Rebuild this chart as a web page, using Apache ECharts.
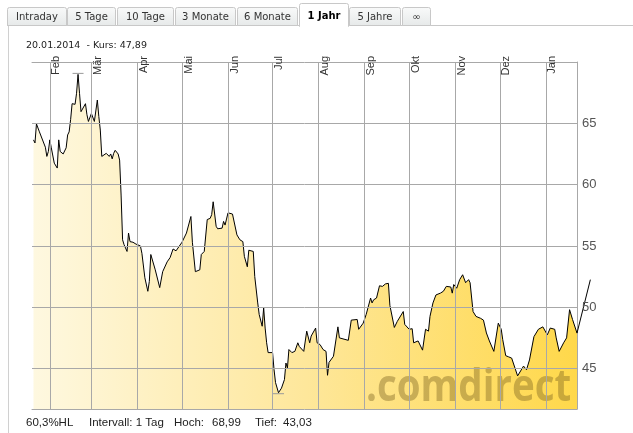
<!DOCTYPE html>
<html><head><meta charset="utf-8">
<script src="https://cdn.jsdelivr.net/npm/echarts@6/dist/echarts.min.js"></script>
<style>html,body{margin:0;padding:0;background:#fff}#c{width:633px;height:433px}</style>
</head><body><div id="c"></div>
<script>
// ---------- DATA ----------
const dates = [
'2013-01-21','2013-01-22','2013-01-23','2013-01-25','2013-01-29','2013-01-30','2013-01-31',
'2013-02-01','2013-02-02','2013-02-04','2013-02-06','2013-02-07','2013-02-08','2013-02-10','2013-02-12','2013-02-13','2013-02-14','2013-02-15','2013-02-16','2013-02-18','2013-02-19','2013-02-20','2013-02-21','2013-02-22','2013-02-23','2013-02-25','2013-02-26','2013-02-27','2013-02-28',
'2013-03-01','2013-03-03','2013-03-04','2013-03-05','2013-03-06','2013-03-07','2013-03-08','2013-03-09','2013-03-11','2013-03-13','2013-03-14','2013-03-15','2013-03-16','2013-03-17','2013-03-19','2013-03-20','2013-03-21','2013-03-22','2013-03-23','2013-03-25','2013-03-26','2013-03-27','2013-03-29','2013-03-31',
'2013-04-03','2013-04-04','2013-04-06','2013-04-08','2013-04-09','2013-04-10','2013-04-13','2013-04-16','2013-04-18','2013-04-21','2013-04-23','2013-04-25','2013-04-27',
'2013-05-01','2013-05-04','2013-05-07','2013-05-08','2013-05-10','2013-05-13','2013-05-14','2013-05-15','2013-05-16','2013-05-18','2013-05-20','2013-05-21','2013-05-22','2013-05-24','2013-05-25','2013-05-28','2013-05-29','2013-05-30',
'2013-06-01','2013-06-04','2013-06-07','2013-06-09','2013-06-11','2013-06-12','2013-06-14','2013-06-15','2013-06-18','2013-06-19','2013-06-21','2013-06-22','2013-06-24','2013-06-25','2013-06-26','2013-06-27','2013-06-28',
'2013-07-01','2013-07-02','2013-07-03','2013-07-05','2013-07-07','2013-07-09','2013-07-10','2013-07-11','2013-07-12','2013-07-14','2013-07-16','2013-07-18','2013-07-19','2013-07-22','2013-07-24','2013-07-26','2013-07-27','2013-07-30','2013-07-31',
'2013-08-02','2013-08-04','2013-08-06','2013-08-07','2013-08-08','2013-08-11','2013-08-14','2013-08-15','2013-08-16','2013-08-21','2013-08-23','2013-08-27','2013-08-28','2013-08-31',
'2013-09-02','2013-09-05','2013-09-06','2013-09-07','2013-09-09','2013-09-11','2013-09-13','2013-09-15','2013-09-17','2013-09-18','2013-09-21','2013-09-23','2013-09-27','2013-09-28',
'2013-10-01','2013-10-03','2013-10-04','2013-10-07','2013-10-08','2013-10-10','2013-10-12','2013-10-14','2013-10-15','2013-10-17','2013-10-19','2013-10-22','2013-10-24','2013-10-26','2013-10-27','2013-10-29','2013-10-30','2013-10-31',
'2013-11-02','2013-11-04','2013-11-06','2013-11-07','2013-11-08','2013-11-10','2013-11-11','2013-11-13','2013-11-15','2013-11-18','2013-11-20','2013-11-22','2013-11-24','2013-11-25','2013-11-27','2013-11-30',
'2013-12-02','2013-12-03','2013-12-05','2013-12-07','2013-12-09','2013-12-13','2013-12-15','2013-12-17','2013-12-19','2013-12-21','2013-12-24','2013-12-27','2013-12-30',
'2014-01-02','2014-01-04','2014-01-07','2014-01-08','2014-01-10','2014-01-13','2014-01-15','2014-01-17','2014-01-19','2014-01-22'
];
const prices = [
63.65,63.4,64.95,64.3,63.05,62.3,62.7,
63.65,63.0,61.75,61.35,63.65,62.7,62.5,63.0,64.05,64.3,65.3,66.6,66.55,67.45,68.99,67.45,65.95,66.1,66.6,65.7,65.15,65.0,
65.8,65.15,65.0,66.9,65.55,64.45,62.3,62.3,62.55,62.3,62.5,62.1,62.55,62.8,62.5,62.0,59.15,55.5,55.1,54.55,56.05,55.35,55.3,55.15,
55.0,54.4,52.4,51.3,52.1,54.3,53.05,51.6,52.9,53.7,54.05,54.75,54.6,
55.3,56.05,57.4,55.3,52.9,53.05,54.3,54.15,54.55,57.15,57.25,57.55,58.6,56.6,56.4,56.45,57.0,56.7,
57.7,57.6,55.9,55.5,55.35,54.15,53.3,54.65,54.55,52.5,50.35,49.4,48.45,49.95,48.3,47.1,46.3,
46.3,44.9,43.85,43.03,43.4,44.1,45.45,45.05,46.55,46.3,46.4,47.1,46.8,46.4,48.05,47.1,47.65,48.3,47.1,
46.95,46.55,46.4,44.45,45.5,46.0,48.4,47.5,47.35,47.3,48.95,49.0,48.2,48.7,
49.4,50.75,50.35,50.6,50.75,51.75,51.7,51.9,51.95,50.15,48.35,48.85,49.65,48.6,
48.2,48.25,47.1,47.25,47.1,46.5,48.2,48.05,49.25,50.35,51.0,51.15,51.3,51.7,51.55,51.65,51.15,51.85,
51.55,52.25,52.65,52.7,52.0,52.25,52.0,49.65,49.25,49.1,48.95,47.9,47.25,47.1,46.4,48.7,
48.2,47.35,46.05,45.95,45.85,44.4,44.8,45.2,44.9,45.7,47.6,48.2,48.4,
47.75,48.3,48.2,47.5,46.4,47.1,47.5,49.8,49.0,47.89
];
const tailDate = '2014-01-31';
const tailPrice = 52.25;
const xStart = '2013-01-20';
const xEnd = '2014-01-22';
const monthStarts = ['2013-02-01','2013-03-01','2013-04-01','2013-05-01','2013-06-01','2013-07-01','2013-08-01','2013-09-01','2013-10-01','2013-11-01','2013-12-01','2014-01-01'];
const monthLabels = ['Feb','Mär','Apr','Mai','Jun','Jul','Aug','Sep','Okt','Nov','Dez','Jan'];
const yTicks = [45,50,55,60,65];
const yMin = 41.7, yMax = 70;
const tabLabels = ['Intraday','5 Tage','10 Tage','3 Monate','6 Monate','1 Jahr','5 Jahre','\u221e'];
const activeTab = 5;
const quoteDate = '20.01.2014';
const intervalText = 'Intervall: 1 Tag';
const brand = '.comdirect';

// ---------- LAYOUT (not data) ----------
const tabX = [7,67,117,175,237,299,349,402];
const tabW = [59,48,56,60,60,49,51,28];
const G = {left:32, right:56, top:62, bottom:24};

const T = s => { const p = s.split('-'); return new Date(+p[0], +p[1]-1, +p[2]).getTime(); };
const main = dates.map((d,i) => [T(d), prices[i]]);
const last = main[main.length-1];
const tail = [last, [T(tailDate), tailPrice]];
const hi = Math.max(...prices), lo = Math.min(...prices);
const de = (v, n) => v.toFixed(n).replace('.', ',');
const hlText = de((hi-lo)/lo*100, 1) + '%HL';

// second (overlay) grid keeps the same time scale but reaches the tail date
const plotW = 633 - G.left - G.right;
const tailW = plotW * (T(tailDate) - T(xStart)) / (T(xEnd) - T(xStart));

const grey = '#a8a8a8';
const chart = echarts.init(document.getElementById('c'), null, {renderer:'canvas'});

const graphics = [];
graphics.push({type:'line', shape:{x1:7, y1:25.5, x2:633, y2:25.5}, style:{stroke:'#c8c8c8', lineWidth:1}, z:10});
graphics.push({type:'line', shape:{x1:8.5, y1:25, x2:8.5, y2:433}, style:{stroke:'#d0d0d0', lineWidth:1}, z:10});
tabLabels.forEach((lab, i) => {
  const act = i === activeTab;
  graphics.push({type:'rect', shape:{x:tabX[i]+0.5, y:(act?3:7)+0.5, width:tabW[i], height:act?23:18, r:[2,2,0,0]},
    style:{fill: act ? '#ffffff' : new echarts.graphic.LinearGradient(0,0,0,1,[{offset:0,color:'#f9fafa'},{offset:1,color:'#e6e9e9'}]), stroke:'#c8c8c8', lineWidth:1}, z:11});
  if (act) graphics.push({type:'rect', shape:{x:tabX[i]+1, y:24, width:tabW[i]-1, height:3}, style:{fill:'#fff'}, z:12});
  graphics.push({type:'text', x: tabX[i] + tabW[i]/2 + 0.5, y: act ? 16 : 17,
    style:{text:lab, fill: act ? '#000' : '#333', font: (act?'bold ':'') + '10px "DejaVu Sans"', align:'center', verticalAlign:'middle'}, z:13});
});
graphics.push({type:'text', x:26, y:45.5, style:{text: quoteDate + '  - Kurs: ' + de(last[1],2), fill:'#222', font:'9.5px "DejaVu Sans"', verticalAlign:'middle'}, z:13});
const foot = [[26, hlText],[89, intervalText],[174,'Hoch:'],[212, de(hi,2)],[255,'Tief:'],[283, de(lo,2)]];
foot.forEach(f => graphics.push({type:'text', x:f[0], y:423, style:{text:f[1], fill:'#222', font:'11.5px "Liberation Sans"', verticalAlign:'middle'}, z:13}));
graphics.push({type:'text', x:366, y:388, scaleX:0.855, style:{text:brand, fill:'rgba(120,96,30,0.4)', font:'bold 45px "Open Sans"', verticalAlign:'middle'}, z:3});

const lineMarks = [];
yTicks.forEach(v => lineMarks.push({yAxis:v, lineStyle:{color:grey, type:'solid', width:1},
  label:{show:true, position:'end', formatter: String(v), color:'#555', fontSize:13, fontFamily:'Liberation Sans', distance:5}}));
monthStarts.forEach((d,i) => lineMarks.push({xAxis:T(d), name:monthLabels[i], lineStyle:{color:grey, type:'solid', width:1},
  label:{show:true, position:'insideEndBottom', formatter: monthLabels[i], color:'#333', fontSize:11, fontFamily:'Liberation Sans', distance:[-6,1]}}));

const xBase = {type:'time', min:T(xStart), max:T(xEnd), axisLine:{show:true, lineStyle:{color:grey}}, axisTick:{show:false}, axisLabel:{show:false}, splitLine:{show:false}};
const hiddenAxis = {show:false, axisLine:{show:false}, axisTick:{show:false}, axisLabel:{show:false}, splitLine:{show:false}};
chart.setOption({
  animation:false,
  grid:[G, {left:G.left, width:tailW, top:G.top, bottom:G.bottom}],
  xAxis:[Object.assign({position:'bottom', gridIndex:0}, xBase), Object.assign({position:'top', gridIndex:0}, xBase),
         Object.assign({type:'time', gridIndex:1, min:T(xStart), max:T(tailDate)}, hiddenAxis)],
  yAxis:[{type:'value', gridIndex:0, position:'right', min:yMin, max:yMax, axisLine:{show:true, lineStyle:{color:grey}}, axisTick:{show:false}, axisLabel:{show:false}, splitLine:{show:false}},
         Object.assign({type:'value', gridIndex:1, min:yMin, max:yMax}, hiddenAxis)],
  series:[
    {type:'line', data:main, symbol:'none', showSymbol:false, clip:true, z:2,
     lineStyle:{color:'#000', width:1},
     areaStyle:{opacity:1, color:new echarts.graphic.LinearGradient(0,0,1,0,[{offset:0,color:'#fef8e0'},{offset:0.5,color:'#fee79b'},{offset:1,color:'#ffd84a'}])},
     markPoint:{silent:true, symbol:'rect', symbolSize:[11,1], itemStyle:{color:'#999'}, label:{show:false},
       data:[{type:'max', symbolOffset:[0,-1]},{type:'min', symbolOffset:[0,1]}]},
     markLine:{silent:true, symbol:['none','none'], animation:false, data:lineMarks}
    },
    {type:'line', xAxisIndex:2, yAxisIndex:1, data:tail, symbol:'none', showSymbol:false, z:4,
     lineStyle:{color:'#000', width:1}}
  ],
  graphic:graphics
});
</script></body></html>
